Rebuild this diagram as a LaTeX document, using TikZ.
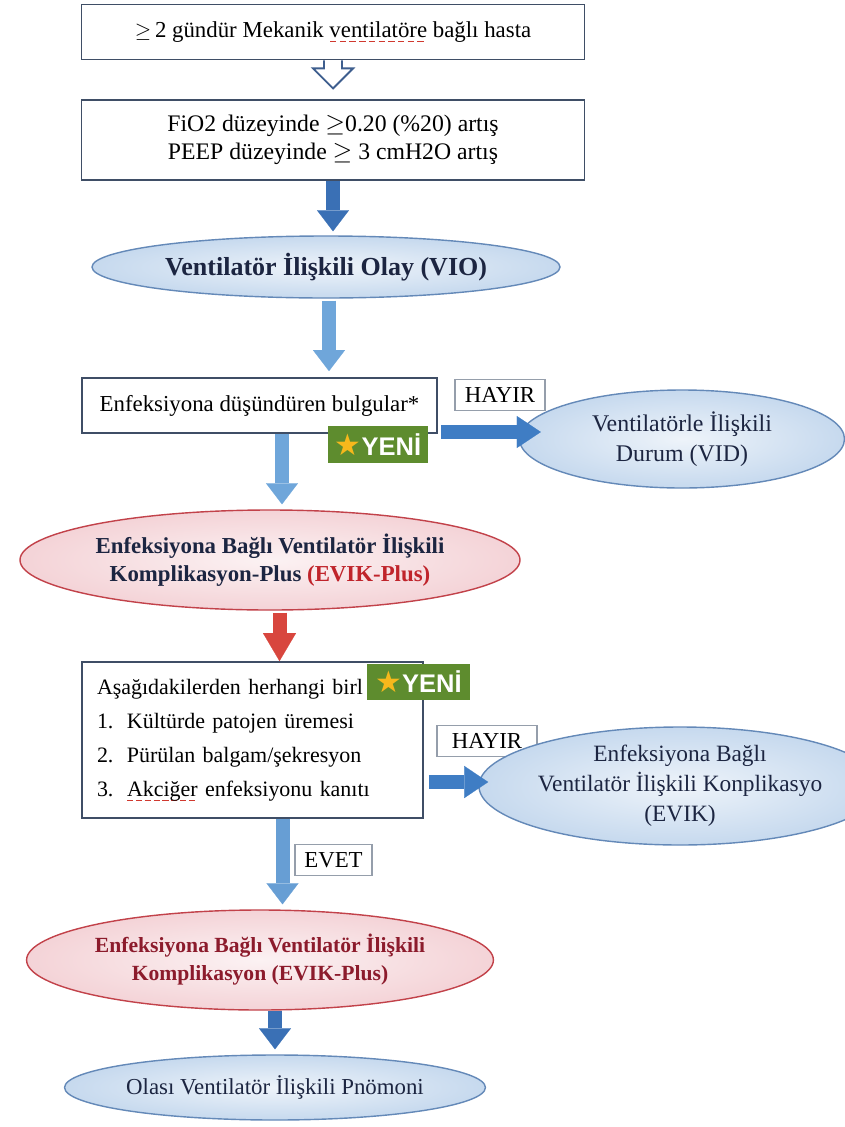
\documentclass[tikz,border=0pt]{standalone}
\usepackage{fontspec}
\setmainfont{Liberation Serif}
\newfontfamily\badgefont{Liberation Sans}
\newfontfamily\symfont{DejaVu Sans}
\usetikzlibrary{positioning, shapes.geometric, arrows.meta}

\definecolor{boxline}{HTML}{3F4E66}
\definecolor{hollowline}{HTML}{3E5E8E}
\definecolor{darkarrow}{HTML}{3A70B5}
\definecolor{lightarrow}{HTML}{6FA6DA}
\definecolor{sidearrow}{HTML}{3F7DC4}
\definecolor{redarrow}{HTML}{D8463E}
\definecolor{ovalblue}{HTML}{C6D9EE}
\definecolor{ovalblueline}{HTML}{6489B8}
\definecolor{ovalpink}{HTML}{F4D3D7}
\definecolor{ovalpinkline}{HTML}{C2424A}
\definecolor{navytext}{HTML}{1C2541}
\definecolor{evikred}{HTML}{C0242B}
\definecolor{darkred}{HTML}{8C1B2C}
\definecolor{badgegreen}{HTML}{5E8C2E}
\definecolor{stargold}{HTML}{F6B81C}
\definecolor{squigred}{HTML}{D0392F}

% red spell-check line under a word
\newlength\squigwd
\newcommand\squig[1]{\settowidth\squigwd{#1}%
    \rlap{\textcolor{squigred}{\xleaders\hbox to 0.4em{\rule[-0.45ex]{0.28em}{0.6pt}\hfil}\hskip\squigwd}}#1}
% green "new" badge text
\newcommand\yenimark{{\symfont\fontsize{17}{17}\selectfont\textcolor{stargold}{★}}{\badgefont\bfseries\fontsize{14.5}{14.5}\selectfont\color{white}YENİ}}

\begin{document}
\begin{tikzpicture}[
    every node/.style={font=\fontsize{13}{15.5}\selectfont},
    stepbox/.style={
        rectangle, draw=boxline, line width=1pt, fill=white,
        inner sep=0pt, align=center
    },
    blueoval/.style={
        ellipse, draw=ovalblueline, line width=0.8pt,
        inner color=ovalblue!30, outer color=ovalblue,
        inner sep=0pt, align=center, text=navytext
    },
    pinkoval/.style={
        ellipse, draw=ovalpinkline, line width=0.8pt,
        inner color=ovalpink!30, outer color=ovalpink,
        inner sep=0pt, align=center, text=navytext
    },
    answer/.style={
        rectangle, draw=boxline!55, line width=0.6pt, fill=white,
        inner sep=0pt, minimum height=0.62cm
    },
    badge/.style={rectangle, fill=badgegreen, inner sep=0pt},
    flow/.style={
        draw=#1, line width=0.28cm,
        -{Triangle[length=0.42cm, width=0.64cm, line width=0.1pt]}
    },
    hollow/.style={draw=hollowline, line width=1.1pt, fill=white, line join=miter}
]
\useasboundingbox (0,0) rectangle (16.9,-22.54);

% --- Boxes ---
\node[stepbox, minimum width=10.06cm, minimum height=1.1cm] (start) at (6.66,-0.64)
    {$\geq$\,2 gündür Mekanik \squig{ventilatöre} bağlı hasta};

\node[stepbox, minimum width=10.06cm, minimum height=1.6cm, font=\fontsize{13.5}{16}\selectfont] (rise) at (6.66,-2.8)
    {FiO2 düzeyinde $\geq$0.20 (\%20) artış\\
     PEEP düzeyinde $\geq$ 3 cmH2O artış};

% --- VIO ---
\node[blueoval, minimum width=9.36cm, minimum height=1.24cm, font=\fontsize{14.8}{16}\selectfont\bfseries] (vio) at (6.52,-5.34)
    {Ventilatör İlişkili Olay (VIO)};

% --- Enfeksiyon bulgulari ---
\node[stepbox, minimum width=7.1cm, minimum height=1.1cm] (signs) at (5.19,-8.11)
    {Enfeksiyona düşündüren bulgular*};

\node[answer, minimum width=1.8cm] (no1) at (10.0,-7.9) {HAYIR};

\node[blueoval, minimum width=6.5cm, minimum height=1.96cm, font=\fontsize{13.6}{17}\selectfont] (vid) at (13.64,-8.78)
    {Ventilatörle İlişkili\\ Durum (VID)};

% --- EVIK-Plus ---
\node[pinkoval, minimum width=10.0cm, minimum height=2.0cm, font=\fontsize{13}{16}\selectfont\bfseries] (evikplus) at (5.4,-11.2)
    {Enfeksiyona Bağlı Ventilatör İlişkili\\
     Komplikasyon-Plus \textcolor{evikred}{(EVIK-Plus)}};

% --- Alt kriterler ---
\node[stepbox, minimum width=6.82cm, minimum height=3.12cm, text width=6.22cm,
      inner xsep=0.3cm, align=left, font=\fontsize{12.5}{19.3}\selectfont] (criteria) at (5.05,-14.8)
    {Aşağıdakilerden herhangi birl\\
     \makebox[0.6cm][l]{1.}Kültürde patojen üremesi\\
     \makebox[0.6cm][l]{2.}Pürülan balgam/şekresyon\\
     \makebox[0.6cm][l]{3.}\squig{Akciğer} enfeksiyonu kanıtı};

\node[answer, minimum width=2.0cm] (no2) at (9.74,-14.82) {HAYIR};

\node[blueoval, minimum width=6.6cm, minimum height=2.36cm, font=\fontsize{13.3}{17}\selectfont] (evik) at (13.6,-15.72)
    {Enfeksiyona Bağlı\\ Ventilatör İlişkili Konplikasyo\\ (EVIK)};

\node[answer, minimum width=1.54cm] (yes) at (6.67,-17.2) {EVET};

% --- Sonuc ---
\node[pinkoval, minimum width=9.28cm, minimum height=2.0cm, text=darkred, font=\fontsize{12.3}{16}\selectfont\bfseries] (evikplus2) at (5.2,-19.2)
    {Enfeksiyona Bağlı Ventilatör İlişkili\\ Komplikasyon (EVIK-Plus)};

\node[blueoval, minimum width=8.4cm, minimum height=1.3cm, font=\fontsize{13}{15.5}\selectfont] (vip) at (5.5,-21.75)
    {Olası Ventilatör İlişkili Pnömoni};

% --- Arrows ---
\draw[hollow] (start.south) ++(-0.18,0) -- ++(0,-0.16) -- ++(-0.22,0)
    -- ++(0.4,-0.4) -- ++(0.4,0.4) -- ++(-0.22,0) -- ++(0,0.16);

\draw[flow=darkarrow, shorten >=0.08cm] (rise.south) -- (rise.south |- vio.north);
\draw[flow=lightarrow, shorten <=0.04cm, shorten >=0.12cm]
    ([xshift=0.06cm]vio.south) -- ([xshift=0.06cm]vio.south |- signs.north);
\draw[flow=sidearrow, -{Triangle[length=0.48cm, width=0.64cm, line width=0.1pt]}, shorten <=0.06cm, shorten >=-0.44cm]
    ([yshift=-0.53cm]signs.east) -- ([yshift=-0.53cm]signs.east -| vid.west);
\draw[flow=lightarrow, shorten >=0.1cm]
    ([xshift=0.45cm]signs.south) -- ([xshift=0.45cm]signs.south |- evikplus.north);
\draw[flow=redarrow, -{Triangle[length=0.56cm, width=0.66cm, line width=0.1pt]}, shorten <=0.04cm]
    ([xshift=0.54cm]criteria.north |- evikplus.south) -- ([xshift=0.54cm]criteria.north);
\draw[flow=sidearrow, -{Triangle[length=0.48cm, width=0.64cm, line width=0.1pt]}, shorten <=0.1cm, shorten >=-0.2cm]
    ([yshift=-0.84cm]criteria.east) -- ([yshift=-0.84cm]criteria.east -| evik.west);
\draw[flow=lightarrow!85!darkarrow, shorten >=0.1cm]
    ([xshift=0.6cm]criteria.south) -- ([xshift=0.6cm]criteria.south |- evikplus2.north);
\draw[flow=darkarrow, shorten >=0.1cm] (vip.north |- evikplus2.south) -- (vip.north);

% --- YENI badges ---
\node[badge, minimum width=2.0cm, minimum height=0.74cm] (new1) at (7.56,-8.89) {\yenimark};
\node[badge, minimum width=2.06cm, minimum height=0.72cm] (new2) at (8.37,-13.64) {\yenimark};

\end{tikzpicture}
\end{document}
